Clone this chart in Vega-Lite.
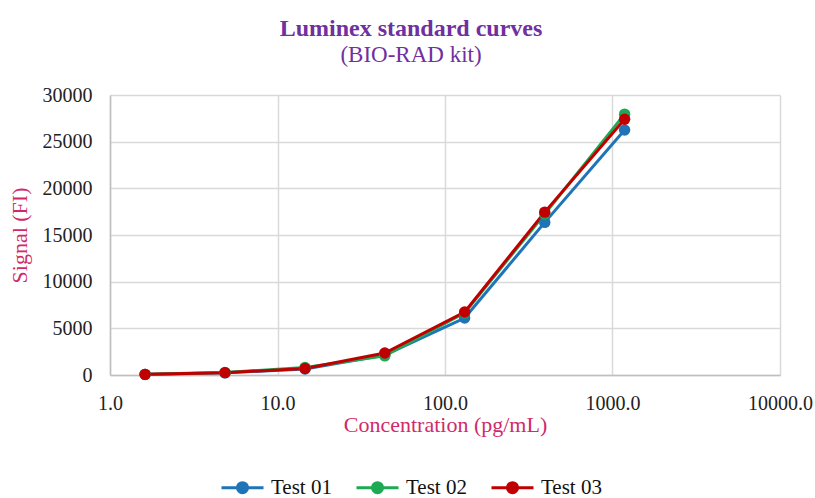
{
  "$schema": "https://vega.github.io/schema/vega-lite/v6.json",
  "autosize": "none",
  "width": 670,
  "height": 280,
  "padding": {"left": 110, "top": 95, "right": 35, "bottom": 123},
  "background": "white",
  "title": {
    "text": "Luminex standard curves",
    "subtitle": "(BIO-RAD kit)",
    "anchor": "middle",
    "frame": "group",
    "dx": -34,
    "offset": 18,
    "font": "Liberation Serif",
    "fontSize": 24,
    "fontWeight": "bold",
    "color": "#7030A0",
    "subtitleFont": "Liberation Serif",
    "subtitleFontSize": 23,
    "subtitleColor": "#7030A0",
    "subtitlePadding": 3
  },
  "config": {
    "view": {"stroke": null},
    "font": "Liberation Serif",
    "axis": {
      "labelFont": "Liberation Serif",
      "labelFontSize": 20,
      "labelColor": "#222222",
      "titleFont": "Liberation Serif",
      "titleFontSize": 22,
      "titleFontWeight": "normal",
      "titleColor": "#D02A6A",
      "gridColor": "#D9D9D9",
      "gridWidth": 1.5,
      "domainColor": "#BFBFBF",
      "domainWidth": 1.5,
      "ticks": false,
      "tickSize": 0
    }
  },
  "data": {
    "values": [
      {"conc": 1.62, "signal": 60, "test": "Test 01"},
      {"conc": 4.86, "signal": 230, "test": "Test 01"},
      {"conc": 14.6, "signal": 650, "test": "Test 01"},
      {"conc": 43.7, "signal": 2150, "test": "Test 01"},
      {"conc": 131, "signal": 6100, "test": "Test 01"},
      {"conc": 394, "signal": 16350, "test": "Test 01"},
      {"conc": 1181, "signal": 26250, "test": "Test 01"},
      {"conc": 1.62, "signal": 70, "test": "Test 02"},
      {"conc": 4.86, "signal": 260, "test": "Test 02"},
      {"conc": 14.6, "signal": 800, "test": "Test 02"},
      {"conc": 43.7, "signal": 2050, "test": "Test 02"},
      {"conc": 131, "signal": 6650, "test": "Test 02"},
      {"conc": 394, "signal": 17250, "test": "Test 02"},
      {"conc": 1181, "signal": 27950, "test": "Test 02"},
      {"conc": 1.62, "signal": 70, "test": "Test 03"},
      {"conc": 4.86, "signal": 250, "test": "Test 03"},
      {"conc": 14.6, "signal": 700, "test": "Test 03"},
      {"conc": 43.7, "signal": 2350, "test": "Test 03"},
      {"conc": 131, "signal": 6750, "test": "Test 03"},
      {"conc": 394, "signal": 17450, "test": "Test 03"},
      {"conc": 1181, "signal": 27400, "test": "Test 03"}
    ]
  },
  "encoding": {
    "x": {
      "field": "conc",
      "type": "quantitative",
      "scale": {"type": "log", "domain": [1, 10000], "nice": false},
      "axis": {
        "title": "Concentration (pg/mL)",
        "values": [1, 10, 100, 1000, 10000],
        "format": ".1f",
        "labelPadding": 18,
        "titlePadding": 1,
        "labelFlush": false,
        "labelOverlap": false
      }
    },
    "y": {
      "field": "signal",
      "type": "quantitative",
      "scale": {"domain": [0, 30000], "nice": false},
      "axis": {
        "title": "Signal (FI)",
        "values": [0, 5000, 10000, 15000, 20000, 25000, 30000],
        "format": "d",
        "labelPadding": 18,
        "titlePadding": 11
      }
    },
    "color": {
      "field": "test",
      "type": "nominal",
      "scale": {
        "domain": ["Test 01", "Test 02", "Test 03"],
        "range": ["#1F74B8", "#1EAA55", "#C00000"]
      },
      "legend": {
        "title": null,
        "orient": "none",
        "direction": "horizontal",
        "legendX": 117,
        "legendY": 377,
        "padding": 0,
        "symbolType": "M-1.5,0L1.5,0M0.36,0A0.36,0.36,0,1,1,-0.36,0A0.36,0.36,0,1,1,0.36,0Z",
        "symbolSize": 784,
        "symbolStrokeWidth": 3,
        "labelFont": "Liberation Serif",
        "labelFontSize": 21,
        "labelColor": "#111111",
        "labelOffset": 13,
        "columnPadding": 18,
        "encode": {
          "symbols": {
            "update": {
              "fill": {"scale": "color", "field": "value"},
              "stroke": {"scale": "color", "field": "value"}
            }
          }
        }
      }
    }
  },
  "layer": [
    {"mark": {"type": "line", "strokeWidth": 3}},
    {"mark": {"type": "point", "filled": true, "size": 130, "opacity": 1}}
  ]
}
